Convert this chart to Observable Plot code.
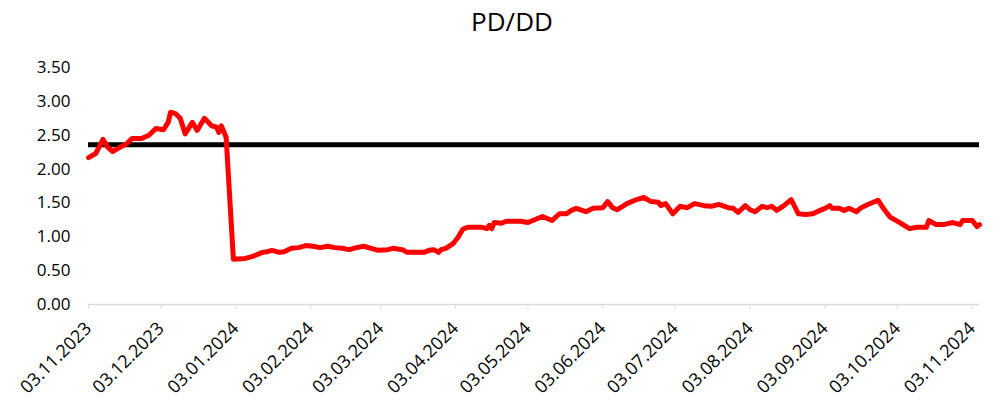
<!DOCTYPE html>
<html><head><meta charset="utf-8">
<script src="https://cdn.jsdelivr.net/npm/d3@7"></script>
<script src="https://cdn.jsdelivr.net/npm/@observablehq/plot@0.6"></script>
<style>
body{margin:0;background:#fff;font-family:"Open Sans",sans-serif;}
#title{height:40px;line-height:42px;width:1004px;box-sizing:border-box;padding-left:20px;text-align:center;font-size:26px;color:#000;}
</style></head><body>
<div id="title">PD/DD</div>
<div id="chart"></div>
<script>
const dates = [
"2023-11-03","2023-11-06","2023-11-09","2023-11-11","2023-11-13","2023-11-16","2023-11-19","2023-11-21","2023-11-25","2023-11-28",
"2023-12-01","2023-12-04","2023-12-06","2023-12-07","2023-12-09","2023-12-11","2023-12-13","2023-12-16","2023-12-18","2023-12-21",
"2023-12-24","2023-12-26","2023-12-27","2023-12-28","2023-12-30","2024-01-02","2024-01-07","2024-01-10","2024-01-14","2024-01-16",
"2024-01-18","2024-01-21","2024-01-23","2024-01-26","2024-01-29","2024-02-01","2024-02-04","2024-02-07","2024-02-10","2024-02-13",
"2024-02-16","2024-02-19","2024-02-22","2024-02-25","2024-02-28","2024-03-02","2024-03-06","2024-03-08","2024-03-12","2024-03-14",
"2024-03-18","2024-03-21","2024-03-23","2024-03-25","2024-03-27","2024-03-28","2024-03-30","2024-04-02","2024-04-04","2024-04-06",
"2024-04-08","2024-04-10","2024-04-14","2024-04-16","2024-04-17","2024-04-18","2024-04-19","2024-04-22","2024-04-24","2024-04-30",
"2024-05-03","2024-05-05","2024-05-09","2024-05-13","2024-05-16","2024-05-19","2024-05-21","2024-05-23","2024-05-27","2024-05-30",
"2024-06-03","2024-06-05","2024-06-07","2024-06-09","2024-06-13","2024-06-17","2024-06-20","2024-06-23","2024-06-26","2024-06-27",
"2024-06-29","2024-07-02","2024-07-05","2024-07-08","2024-07-11","2024-07-15","2024-07-18","2024-07-21","2024-07-25","2024-07-27",
"2024-07-29","2024-08-01","2024-08-03","2024-08-05","2024-08-08","2024-08-10","2024-08-12","2024-08-14","2024-08-17","2024-08-20",
"2024-08-23","2024-08-26","2024-08-29","2024-09-01","2024-09-03","2024-09-05","2024-09-06","2024-09-09","2024-09-11","2024-09-13",
"2024-09-16","2024-09-18","2024-09-21","2024-09-25","2024-09-27","2024-09-30","2024-10-04","2024-10-08","2024-10-11","2024-10-15",
"2024-10-16","2024-10-19","2024-10-22","2024-10-26","2024-10-29","2024-10-30","2024-11-03","2024-11-05","2024-11-06"
];
const values = [
2.17,2.23,2.44,2.32,2.26,2.32,2.38,2.45,2.45,2.50,
2.60,2.58,2.69,2.84,2.82,2.75,2.52,2.69,2.57,2.75,
2.64,2.62,2.54,2.64,2.47,0.67,0.68,0.71,0.77,0.78,
0.80,0.77,0.78,0.83,0.84,0.87,0.86,0.84,0.86,0.84,
0.83,0.81,0.84,0.86,0.83,0.80,0.81,0.83,0.81,0.77,
0.77,0.77,0.80,0.81,0.77,0.81,0.83,0.90,0.99,1.11,
1.14,1.14,1.14,1.12,1.17,1.12,1.21,1.20,1.23,1.23,
1.21,1.24,1.30,1.24,1.34,1.34,1.39,1.42,1.37,1.42,
1.43,1.52,1.43,1.40,1.49,1.55,1.58,1.52,1.51,1.46,
1.49,1.34,1.45,1.43,1.49,1.46,1.45,1.48,1.43,1.42,
1.36,1.46,1.40,1.37,1.45,1.43,1.45,1.39,1.46,1.55,
1.34,1.33,1.34,1.39,1.42,1.46,1.42,1.42,1.39,1.42,
1.37,1.43,1.48,1.54,1.43,1.29,1.21,1.12,1.14,1.14,
1.24,1.18,1.18,1.21,1.18,1.24,1.24,1.15,1.18
];
const threshold = 2.36;
const xTickDates = ["2023-11-03","2023-12-03","2024-01-03","2024-02-03","2024-03-03","2024-04-03","2024-05-03","2024-06-03","2024-07-03","2024-08-03","2024-09-03","2024-10-03","2024-11-03"];
const xDomain = ["2023-11-03","2024-11-06"];
const yTicks = [0,0.5,1,1.5,2,2.5,3,3.5];

const data = dates.map((d,i)=>({date:new Date(d), value:values[i]}));
const fmt = d3.utcFormat("%d.%m.%Y");

const chart = Plot.plot({
  width:1004, height:366,
  marginTop:27, marginBottom:102, marginLeft:88, marginRight:25,
  style:{fontFamily:"'Open Sans',sans-serif", fontSize:"17px", color:"#000", background:"#fff", overflow:"visible"},
  x:{type:"utc", domain:xDomain.map(d=>new Date(d))},
  y:{domain:[0,3.5]},
  marks:[
    Plot.ruleY([0],{stroke:"#d9d9d9", strokeWidth:1.5}),
    Plot.axisX({ticks:xTickDates.map(d=>new Date(d)), tickFormat:fmt, tickRotate:-45, tickSize:5, tickPadding:16, stroke:"#d9d9d9", fill:"#000", fontSize:18, label:null}),
    Plot.axisY({ticks:yTicks, tickFormat:d=>d.toFixed(2), tickSize:0, tickPadding:18, fill:"#000", label:null}),
    Plot.ruleY([threshold],{stroke:"#000", strokeWidth:5}),
    Plot.line(data,{x:"date", y:"value", stroke:"#ff0000", strokeWidth:5, strokeLinejoin:"round", strokeLinecap:"round"})
  ]
});
document.getElementById("chart").appendChild(chart);
</script>
</body></html>
